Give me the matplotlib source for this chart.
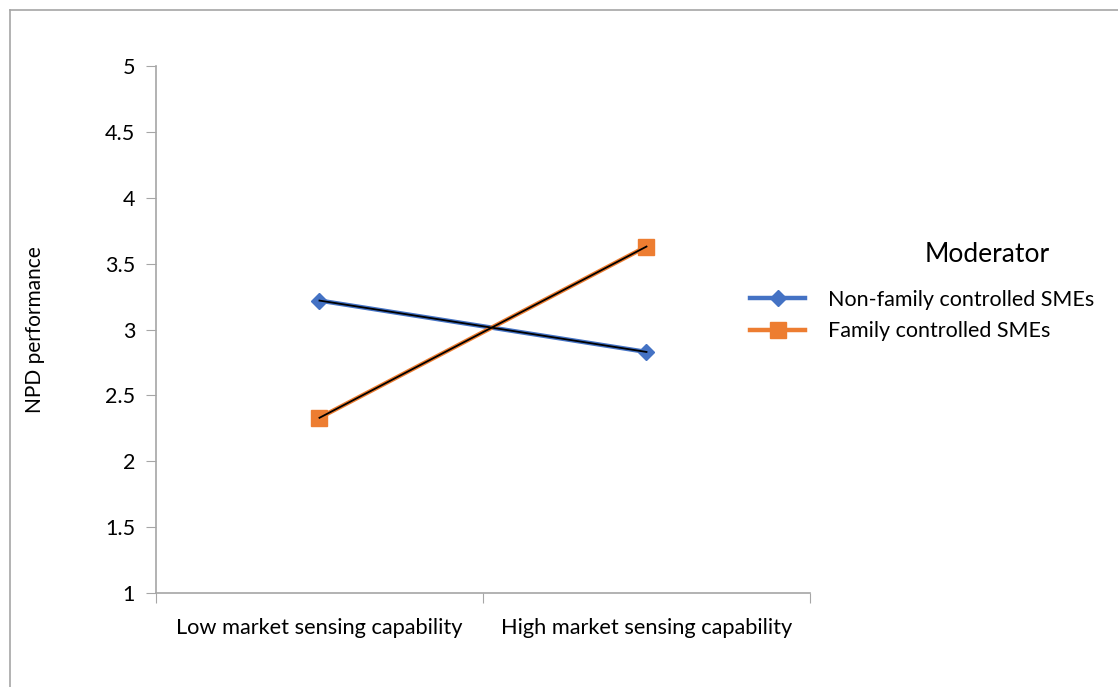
import matplotlib.pyplot as plt
from matplotlib.lines import Line2D

plt.rcParams['font.family'] = ['Lato', 'DejaVu Sans']

categories = ['Low market sensing capability', 'High market sensing capability']
non_family = [3.22, 2.83]
family = [2.33, 3.63]
series_names = ['Non-family controlled SMEs', 'Family controlled SMEs']

blue = '#4472C4'
orange = '#ED7D31'
grey = '#A6A6A6'

fig = plt.figure(figsize=(11.18, 6.87), dpi=100)
ax = fig.add_axes([0.1395, 0.1368, 0.585, 0.767])

x = range(len(categories))
ax.plot(x, non_family, color=blue, lw=3.2, marker='D', ms=8.5, mec=blue, mfc=blue, zorder=3)
ax.plot(x, non_family, color='black', lw=1.3, zorder=4)
ax.plot(x, family, color=orange, lw=3.2, marker='s', ms=11, mec=orange, mfc=orange, zorder=3)
ax.plot(x, family, color='black', lw=1.3, zorder=4)

ax.set_xlim(-0.5, 1.5)
ax.set_ylim(1, 5)
ax.set_yticks([1, 1.5, 2, 2.5, 3, 3.5, 4, 4.5, 5])
ax.set_yticklabels(['1', '1.5', '2', '2.5', '3', '3.5', '4', '4.5', '5'])
ax.set_xticks([-0.5, 0.5, 1.5])
ax.set_xticklabels([])
ax.set_xticks(list(x), minor=True)
ax.set_xticklabels(categories, minor=True)
ax.tick_params(axis='x', which='minor', length=0, pad=18, labelsize=15.7)
ax.tick_params(axis='x', which='major', length=7, color=grey, direction='out')
ax.tick_params(axis='y', length=7, color=grey, direction='out', labelsize=15.5, pad=8)

for side in ['top', 'right']:
    ax.spines[side].set_visible(False)
for side in ['left', 'bottom']:
    ax.spines[side].set_color(grey)
    ax.spines[side].set_linewidth(1.2)

ax.set_ylabel('NPD performance', fontsize=15)
ax.yaxis.set_label_coords(-0.17, 0.5)

handles = [
    Line2D([], [], color=blue, lw=3.2, marker='D', ms=8.5, mfc=blue, mec=blue),
    Line2D([], [], color=orange, lw=3.2, marker='s', ms=11, mfc=orange, mec=orange),
]
fig.legend(handles, series_names, loc='center left', bbox_to_anchor=(0.671, 0.5408),
           frameon=False, fontsize=15.5, borderpad=0, borderaxespad=0,
           handlelength=2.56, handletextpad=1.05, labelspacing=0.55)
fig.text(0.883, 1 - 254 / 687, 'Moderator', fontsize=19, ha='center', va='center')

# outer chart border (top and left visible)
fig.add_artist(Line2D([0.009, 1.0], [0.986, 0.986], color=grey, lw=1.2))
fig.add_artist(Line2D([0.009, 0.009], [0.0, 0.986], color=grey, lw=1.2))

fig.savefig('out.png', dpi=100)
